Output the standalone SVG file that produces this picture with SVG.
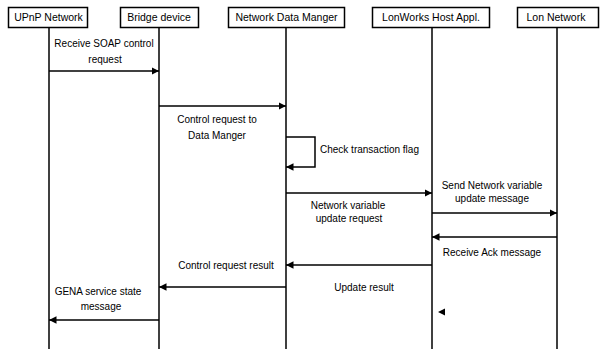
<svg xmlns="http://www.w3.org/2000/svg" width="608" height="349" viewBox="0 0 608 349">
<style>
.box{fill:#fff;stroke:#000;stroke-width:1.5}
.life{stroke:#000;stroke-width:1.5;fill:none}
.msg{stroke:#000;stroke-width:1.5;fill:none;marker-end:url(#ah)}
.hd{font-family:"Liberation Sans",Arial,sans-serif;font-size:10.5px;fill:#000;text-anchor:middle}
.lb{font-family:"Liberation Sans",Arial,sans-serif;font-size:10px;fill:#000;text-anchor:middle}
</style>
<defs>
<marker id="ah" viewBox="0 0 10 10" refX="10" refY="5" markerWidth="5" markerHeight="5" orient="auto" markerUnits="strokeWidth">
<path d="M0,0 L10,5 L0,10 z" fill="#000"/>
</marker>
</defs>
<rect width="608" height="349" fill="#fff"/>
<g id="upnp">
<line class="life" x1="49" y1="28" x2="49" y2="349"/>
<rect class="box" x="8.5" y="7.5" width="79" height="20"/>
<text class="hd" x="48.5" y="21">UPnP Network</text>
</g>
<g id="bridge">
<line class="life" x1="159" y1="28" x2="159" y2="349"/>
<rect class="box" x="120.5" y="7.5" width="78" height="20"/>
<text class="hd" x="159" y="21">Bridge device</text>
</g>
<g id="ndm">
<line class="life" x1="286" y1="28" x2="286" y2="349"/>
<rect class="box" x="228.5" y="7.5" width="116" height="20"/>
<text class="hd" x="286.5" y="21">Network Data Manger</text>
</g>
<g id="lonworks">
<line class="life" x1="432" y1="28" x2="432" y2="349"/>
<rect class="box" x="372.5" y="7.5" width="117" height="20"/>
<text class="hd" x="431" y="21">LonWorks Host Appl.</text>
</g>
<g id="lon">
<line class="life" x1="557" y1="28" x2="557" y2="349"/>
<rect class="box" x="517.5" y="7.5" width="81" height="20"/>
<text class="hd" x="556" y="21">Lon Network</text>
</g>
<g id="connectors">
<line class="msg" x1="49" y1="71" x2="159" y2="71"/>
<line class="msg" x1="159" y1="106" x2="286" y2="106"/>
<polyline class="msg" points="286,137 315,137 315,167 286,167"/>
<line class="msg" x1="286" y1="193" x2="432" y2="193"/>
<line class="msg" x1="432" y1="213" x2="557" y2="213"/>
<line class="msg" x1="557" y1="237" x2="432" y2="237"/>
<line class="msg" x1="432" y1="265" x2="286" y2="265"/>
<line class="msg" x1="286" y1="287" x2="159" y2="287"/>
<line class="msg" x1="159" y1="320" x2="49" y2="320"/>
<path d="M438,312 L445,308.5 L445,315.5 z" fill="#000"/>
</g>
<g id="labels">
<text class="lb" x="104" y="46.5">Receive SOAP control</text>
<text class="lb" x="105" y="62.5">request</text>
<text class="lb" x="217" y="122.5">Control request to</text>
<text class="lb" x="217" y="138.5">Data Manger</text>
<text class="lb" x="320" y="152.5" style="text-anchor:start">Check transaction flag</text>
<text class="lb" x="348" y="208.5">Network variable</text>
<text class="lb" x="349" y="221.5">update request</text>
<text class="lb" x="492" y="188.5">Send Network variable</text>
<text class="lb" x="492" y="201.5">update message</text>
<text class="lb" x="492" y="255.5">Receive Ack message</text>
<text class="lb" x="226" y="268.5">Control request result</text>
<text class="lb" x="364" y="290.5">Update result</text>
<text class="lb" x="98" y="294.5">GENA service state</text>
<text class="lb" x="101" y="309.5">message</text>
</g>
</svg>
